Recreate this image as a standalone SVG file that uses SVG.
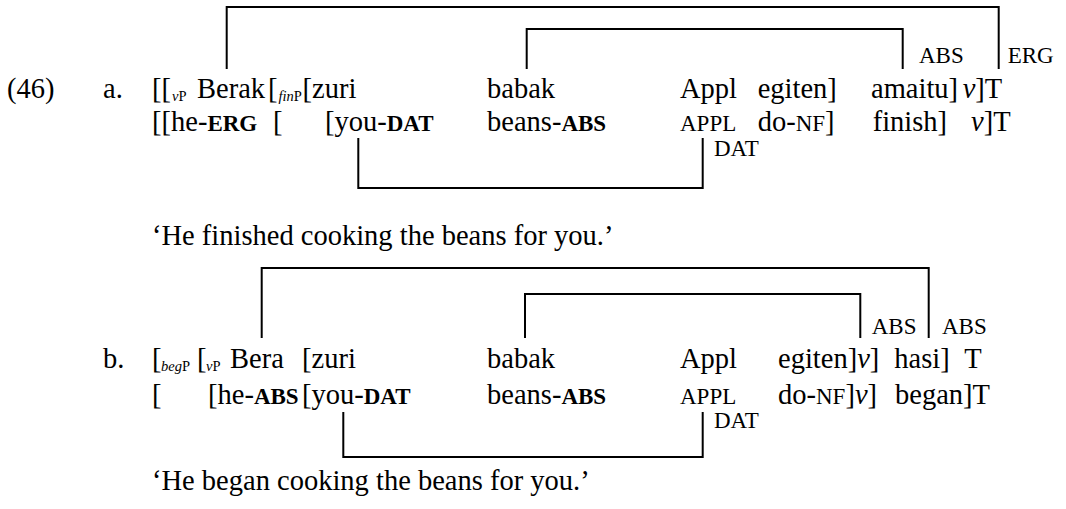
<svg xmlns="http://www.w3.org/2000/svg" width="1066" height="509" viewBox="0 0 1066 509">
<style>
text{font-family:"Liberation Serif","Times New Roman",serif;font-size:28.5px;fill:#000}
.sc{font-size:23px}
.b{font-weight:bold;font-size:23px}
.sub{font-size:14.5px}
.i{font-style:italic}
.br{fill:none;stroke:#000;stroke-width:2}
</style>
<rect width="1066" height="509" fill="#fff"/>
<g id="connectors">
<path class="br" d="M226.7,69 V7 H998.7 V69"/>
<path class="br" d="M526.7,69 V29 H902.7 V69"/>
<path class="br" d="M358.3,138 V188 H702.7 V138"/>
<path class="br" d="M261.7,338 V268 H928.7 V338"/>
<path class="br" d="M525,338 V294 H860.3 V338"/>
<path class="br" d="M343.3,412 V457 H702.7 V412"/>
</g>
<g id="example-a">
<text x="7" y="98">(46)</text>
<text x="103" y="98">a.</text>
<text x="152" y="98">[[</text>
<text class="sub" x="172" y="101"><tspan class="i">v</tspan>P</text>
<text x="197" y="98">Berak</text>
<text x="268" y="98">[</text>
<text class="sub" x="278.5" y="101"><tspan class="i">fin</tspan>P</text>
<text x="302.5" y="98">[zuri</text>
<text x="487" y="98">babak</text>
<text x="680" y="98">Appl</text>
<text x="757.7" y="98">egiten]</text>
<text x="871" y="98">amaitu]</text>
<text x="962.7" y="98"><tspan class="i">v</tspan>]T</text>
<text x="152" y="131">[[he-<tspan class="b">ERG</tspan></text>
<text x="273" y="131">[</text>
<text x="325" y="131">[you-<tspan class="b">DAT</tspan></text>
<text x="487" y="131">beans-<tspan class="b">ABS</tspan></text>
<text class="sc" x="680" y="131">APPL</text>
<text x="757.7" y="131">do-<tspan class="sc">NF</tspan>]</text>
<text x="872.7" y="131">finish]</text>
<text x="971" y="131"><tspan class="i">v</tspan>]T</text>
<text class="sc" x="919" y="63">ABS</text>
<text class="sc" x="1007.7" y="63">ERG</text>
<text class="sc" x="714" y="156">DAT</text>
<text x="152" y="245">‘He finished cooking the beans for you.’</text>
</g>
<g id="example-b">
<text x="103" y="368">b.</text>
<text x="152" y="368">[</text>
<text class="sub" x="161" y="371"><tspan class="i">beg</tspan>P</text>
<text x="197" y="368">[</text>
<text class="sub" x="206" y="371"><tspan class="i">v</tspan>P</text>
<text x="230" y="368">Bera</text>
<text x="302" y="368">[zuri</text>
<text x="487" y="368">babak</text>
<text x="680" y="368">Appl</text>
<text x="778" y="368">egiten]<tspan class="i">v</tspan>]</text>
<text x="894.3" y="368">hasi]</text>
<text x="964.3" y="368">T</text>
<text x="152" y="404">[</text>
<text x="208" y="404">[he-<tspan class="b">ABS</tspan></text>
<text x="302" y="404">[you-<tspan class="b">DAT</tspan></text>
<text x="487" y="404">beans-<tspan class="b">ABS</tspan></text>
<text class="sc" x="680" y="404">APPL</text>
<text x="778" y="404">do-<tspan class="sc">NF</tspan>]<tspan class="i">v</tspan>]</text>
<text x="895" y="404">began]T</text>
<text class="sc" x="871.7" y="334">ABS</text>
<text class="sc" x="942" y="334">ABS</text>
<text class="sc" x="714" y="428">DAT</text>
<text x="152" y="490">‘He began cooking the beans for you.’</text>
</g>
</svg>
